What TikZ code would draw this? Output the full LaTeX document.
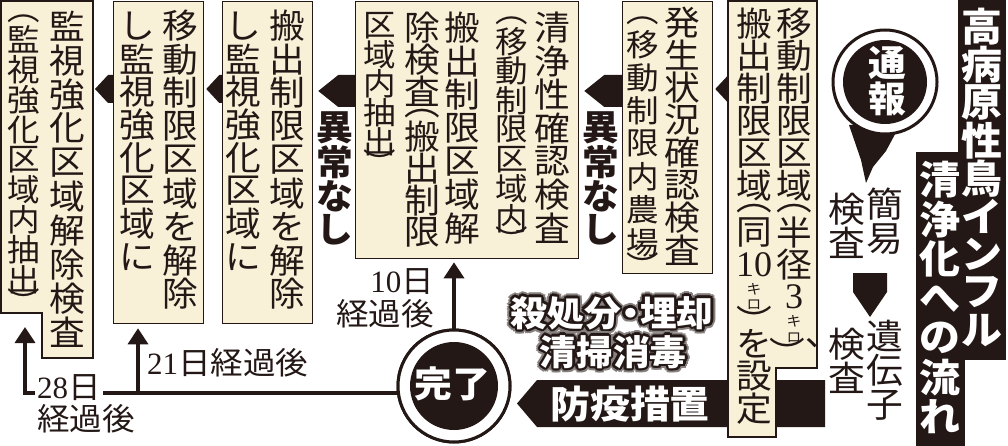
\documentclass[tikz,border=0pt]{standalone}
\usepackage{fontspec}
\usetikzlibrary{arrows.meta,calc}
\newfontfamily\jp[FakeStretch=1.05]{Noto Sans CJK JP}
\newfontfamily\dg{Liberation Serif}
\newcommand\dgt{\dg\fontsize{36}{36}\selectfont}
\definecolor{ink}{HTML}{231815}
\definecolor{cream}{HTML}{F8F1D8}
\ExplSyntaxOn
\dim_new:N \l__vc_pitch_dim
\cs_new_protected:Npn \__vc_cell:nn #1#2
  {
    \hbox_to_wd:nn { 1.3em }
      { \hss \vbox_to_ht:nn {#1} { \vss \hbox:n {#2} \vss } \hss }
  }
\cs_new_protected:Npn \__vc_pc:
  {
    \hbox_to_wd:nn { 0pt } { \hss ︶ \hss }
    \skip_horizontal:n { 0.42em }
    \hbox_to_wd:nn { 0pt } { \hss ︑ \hss }
  }
\cs_new_protected:Npn \__vc_item:n #1
  {
    \str_case:nnF {#1}
      {
        { ︵ } { \__vc_cell:nn { 0.42\l__vc_pitch_dim } {#1} }
        { ︶ } { \__vc_cell:nn { 0.42\l__vc_pitch_dim } {#1} }
        { ︶︑ } { \__vc_cell:nn { 0.42\l__vc_pitch_dim } { \__vc_pc: } }
        { キ } { \__vc_cell:nn { 0.5\l__vc_pitch_dim } { \fontsize{14}{14}\selectfont #1 } }
        { ロ } { \__vc_cell:nn { 0.5\l__vc_pitch_dim } { \fontsize{14}{14}\selectfont #1 } }
      }
      { \__vc_cell:nn { \l__vc_pitch_dim } {#1} }
  }
\NewDocumentCommand \vcol { m m }
  {
    \vbox:n
      {
        \dim_set:Nn \l__vc_pitch_dim {#1}
        \offinterlineskip
        \tl_map_function:nN {#2} \__vc_item:n
      }
  }
\ExplSyntaxOff
\newcommand\halo[1]{%
  \foreach \ang in {0,30,...,330}{%
    \pgfmathsetlengthmacro\hx{4.5pt*cos(\ang)}%
    \pgfmathsetlengthmacro\hy{4.5pt*sin(\ang)}%
    \rlap{\kern\hx\raisebox{\hy}{\textcolor{ink!55}{#1}}}}%
  \foreach \ang in {0,30,...,330}{%
    \pgfmathsetlengthmacro\hx{2.5pt*cos(\ang)}%
    \pgfmathsetlengthmacro\hy{2.5pt*sin(\ang)}%
    \rlap{\kern\hx\raisebox{\hy}{\textcolor{ink}{#1}}}}%
  \textcolor{white}{#1}}
\tikzset{
  box/.style={draw=ink, line width=1.3pt, fill=cream},
  rbox/.style={box, anchor=north west, inner sep=0pt},
  vc/.style={anchor=north, inner sep=0pt, text=ink, font=\jp\fontsize{34}{34}\selectfont},
  vcs/.style={vc, font=\jp\fontsize{31}{31}\selectfont},
  okt/.style={vc, font=\jp\bfseries\fontsize{35}{35}\selectfont},
  ttl/.style={vc, text=white, font=\jp\bfseries\fontsize{39}{39}\selectfont},
  side/.style={vc, font=\jp\fontsize{35}{35}\selectfont},
  lbl/.style={inner sep=0pt, text=ink, font=\jp\fontsize{31}{31}\selectfont},
  conn/.style={draw=ink, line width=3.5pt, -{Triangle[width=20pt,length=16pt]}},
  ring/.style={circle, draw=ink, line width=3pt, fill=white, inner sep=0pt},
  disc/.style={circle, fill=ink, inner sep=0pt},
}
\newcommand\smallarr[2]{\fill[ink] (#1 |- yt) -- ($(#2 |- yt)+(15,0)$) -- ($(#2 |- ym)+(2,0)$) -- ($(#2 |- yb)+(15,0)$) -- (#1 |- yb) -- cycle;}
\newcommand\bigarr[2]{\fill[ink] (#1 |- Yt) -- ($(#2 |- Yt)+(25,0)$) -- ($(#2 |- Ym)+(5,0)$) -- ($(#2 |- Yb)+(25,0)$) -- (#1 |- Yb) -- cycle;}
\begin{document}
\begin{tikzpicture}[x=1pt,y=-1pt]
\useasboundingbox[fill=white] (0,0) rectangle (1008,446);
\coordinate (yt) at (0,75); \coordinate (ym) at (0,89); \coordinate (yb) at (0,103);
\coordinate (Yt) at (0,75); \coordinate (Ym) at (0,91); \coordinate (Yb) at (0,107);
% title
\fill[ink] (958,0) rectangle (1006,360);
\fill[ink] (916,152) rectangle (965,446);
\node[ttl] (h1) at (982,7) {\vcol{38pt}{高病原性鳥インフル}};
\node[ttl] (h2) at (940,160) {\vcol{39.5pt}{清浄化への流れ}};
% report
\fill[ink] (849,125) -- (861,160) -- (866,183) -- (873,167) -- (886,151) -- (900,125) -- cycle;
\node[ring, minimum size=104pt] (tsu) at (885,82) {};
\node[disc, minimum size=84pt] (tsuin) at (tsu) {};
\node[vc, anchor=center, text=white, font=\jp\bfseries\fontsize{36}{36}\selectfont] (tsut) at (887,81) {\vcol{35pt}{通報}};
\node[side] (k1a) at (885,186) {\vcol{35pt}{簡易}};
\node[side] (k1b) at (847,193) {\vcol{33pt}{検査}};
\fill[ink] (853,273) -- (887,273) -- (887,292) -- (870,317) -- (853,292) -- cycle;
\node[side] (k2a) at (885,318) {\vcol{35pt}{遺伝子}};
\node[side] (k2b) at (847,328) {\vcol{33pt}{検査}};
% band
\fill[ink] (825,380) -- (537,380) -- (517,403.5) -- (537,427) -- (825,427) -- cycle;
\node[inner sep=0pt, text=white, font=\jp\bfseries\fontsize{38}{38}\selectfont] (boeki) at (630,404) {防疫措置};
% box 1
\draw[box] (728,1) -- (817,1) -- (817,368) -- (776,368) -- (776,437) -- (728,437) -- cycle;
\coordinate (b1w) at (728,90);
\node[vc] (t1a) at (794,7) {\vcol{32.5pt}{移動制限区域︵半径{\dgt 3}キロ{︶︑}}};
\node[vc] (t1b) at (754,7) {\vcol{32.5pt}{搬出制限区域︵同{\dgt 10}キロ︶を設定}};
% box 2
\node[rbox, minimum width=90pt, minimum height=272pt] (b2) at (622,1) {};
\node[vc] (t2a) at (682,6) {\vcol{32.5pt}{発生状況確認検査}};
\node[vcs] (t2b) at (643,14) {\vcol{33pt}{︵移動制限内農場︶}};
% box 3
\node[rbox, minimum width=223pt, minimum height=257pt] (b3) at (355,1) {};
\node[vc] (t3a) at (552,11) {\vcol{33.4pt}{清浄性確認検査}};
\node[vcs] (t3b) at (512,14) {\vcol{29.5pt}{︵移動制限区域内︶}};
\node[vc] (t3c) at (462,11) {\vcol{33.4pt}{搬出制限区域解}};
\node[vc] (t3d) at (422,11) {\vcol{32pt}{除検査︵搬出制限}};
\node[vcs] (t3e) at (380,11) {\vcol{29pt}{区域内抽出︶}};
% box 4
\node[rbox, minimum width=90pt, minimum height=322pt] (b4) at (222,1) {};
\node[vc] (t4a) at (287,9) {\vcol{33.5pt}{搬出制限区域を解除}};
\node[vc] (t4b) at (243,9) {\vcol{33pt}{し監視強化区域に}};
% box 5
\node[rbox, minimum width=90pt, minimum height=322pt] (b5) at (113,1) {};
\node[vc] (t5a) at (180,9) {\vcol{33.5pt}{移動制限区域を解除}};
\node[vc] (t5b) at (137,9) {\vcol{33pt}{し監視強化区域に}};
% box 6
\draw[box] (1,1) -- (93,1) -- (93,358) -- (42,358) -- (42,313) -- (1,313) -- cycle;
\coordinate (b6e) at (93,90);
\node[vc] (t6a) at (67,9) {\vcol{34pt}{監視強化区域解除検査}};
\node[vcs] (t6b) at (24,12) {\vcol{30pt}{︵監視強化区域内抽出︶}};
% arrows between boxes
\smallarr{b1w}{b2.east}
\bigarr{b2.west}{b3.east}
\bigarr{b3.west}{b4.east}
\smallarr{b4.west}{b5.east}
\smallarr{b5.west}{b6e}
\node[okt] (ok1) at (601,111) {\vcol{34pt}{異常なし}};
\node[okt] (ok2) at (335,111) {\vcol{34pt}{異常なし}};
% disinfection text
\node[inner sep=0pt, font=\jp\bfseries\fontsize{35}{35}\selectfont] (sat1) at (612,313) {\halo{殺処分\kern-.25em・\kern-.25em埋却}};
\node[inner sep=0pt, font=\jp\bfseries\fontsize{35}{35}\selectfont] (sat2) at (613,352) {\halo{清掃消毒}};
% completion and timelines
\coordinate (c393) at (0,393);
\coordinate (f28) at (25,327);
\coordinate (f21) at (138,393);
\node[ring, minimum size=112pt] (kan) at (454,386) {};
\draw[conn] (kan.center |- c393) ++(-50,0) -| (f28);
\draw[conn] (f21) -- ([yshift=-4pt]f21 |- b5.south);
\draw[conn] (kan.north) -- ([yshift=-3pt]kan.north |- b3.south);
\node[ring, minimum size=112pt] (kan2) at (454,386) {};
\node[disc, minimum size=88pt] (kanin) at (kan) {};
\node[inner sep=0pt, text=white, font=\jp\bfseries\fontsize{36}{36}\selectfont] (kant) at (452,384) {完了};
\node[lbl, anchor=east] (d10a) at (434,282) {{\dg 10}日};
\node[lbl, anchor=east] (d10b) at (434,314) {経過後};
\node[lbl, anchor=west] (d21) at (147,363) {{\dg 21}日経過後};
\node[lbl, anchor=west, fill=white, inner xsep=2pt] (d28a) at (35,388) {{\dg 28}日};
\node[lbl, anchor=west] (d28b) at (37,419) {経過後};
\end{tikzpicture}
\end{document}
